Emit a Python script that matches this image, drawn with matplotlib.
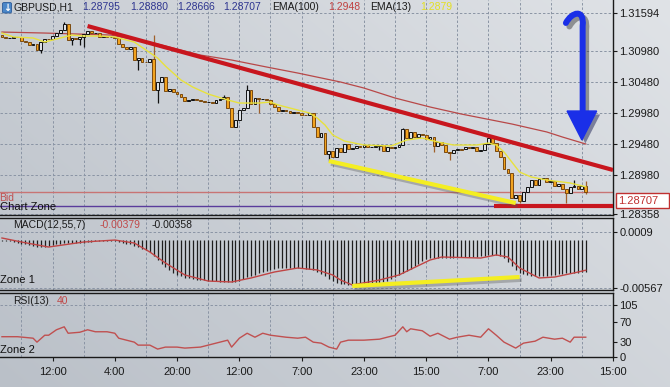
import numpy as np
import matplotlib
matplotlib.use("Agg")
import matplotlib.pyplot as plt
import matplotlib.patheffects as pe
from matplotlib.path import Path
from matplotlib.patches import PathPatch, Polygon, Rectangle, FancyBboxPatch

plt.rcParams['font.family'] = ['Liberation Sans', 'DejaVu Sans']

W, H = 670, 387

# ---------------- GBPUSD H1 candles (bar 0 = leftmost) ----------------
first_open = 1.31238
closes = [
    1.31206, 1.31190, 1.31192, 1.31206, 1.31204, 1.31141, 1.31125, 1.31077, 1.31093, 1.30996,
    1.31125, 1.31174, 1.31170, 1.31222, 1.31270, 1.31319, 1.31415, 1.31157, 1.31190, 1.31174,
    1.31206, 1.31254, 1.31303, 1.31270, 1.31275, 1.31206, 1.31222, 1.31206, 1.31210, 1.31190,
    1.31093, 1.31045, 1.31012, 1.31045, 1.30835, 1.30867, 1.30803, 1.30800, 1.30851, 1.30351,
    1.30480, 1.30561, 1.30335, 1.30367, 1.30319, 1.30286, 1.30238, 1.30174, 1.30190, 1.30206,
    1.30190, 1.30174, 1.30157, 1.30160, 1.30141, 1.30190, 1.30206, 1.30238, 1.30061, 1.29754,
    1.29867, 1.30028, 1.30061, 1.30351, 1.30125, 1.30222, 1.30206, 1.30210, 1.30190, 1.30125,
    1.30077, 1.30012, 1.30028, 1.30012, 1.29980, 1.29996, 1.29980, 1.29948, 1.29945, 1.29980,
    1.29754, 1.29593, 1.29657, 1.29319, 1.29367, 1.29270, 1.29415, 1.29351, 1.29480, 1.29399,
    1.29415, 1.29448, 1.29432, 1.29464, 1.29432, 1.29435, 1.29448, 1.29464, 1.29367, 1.29432,
    1.29415, 1.29432, 1.29464, 1.29722, 1.29577, 1.29674, 1.29593, 1.29641, 1.29625, 1.29561,
    1.29593, 1.29448, 1.29512, 1.29464, 1.29351, 1.29335, 1.29383, 1.29399, 1.29396, 1.29432,
    1.29415, 1.29432, 1.29367, 1.29383, 1.29480, 1.29577, 1.29496, 1.29367, 1.29270, 1.29077,
    1.29012, 1.28609, 1.28657, 1.28561, 1.28706, 1.28786, 1.28899, 1.28819, 1.28915, 1.28932,
    1.28867, 1.28883, 1.28803, 1.28835, 1.28754, 1.28690, 1.28786, 1.28800, 1.28754, 1.28795,
    1.28707,
]
# visible wicks (bar index -> high / low)
high_wicks = {16: 1.31448, 39: 1.31238, 57: 1.30270, 63: 1.30432, 103: 1.29738,
              147: 1.28899, 150: 1.28880}
low_wicks = {10: 1.30948, 18: 1.31077, 20: 1.31077, 21: 1.31045, 35: 1.30674, 40: 1.30141,
             66: 1.29980, 84: 1.29206, 97: 1.29383, 111: 1.29351, 115: 1.29222,
             133: 1.28528, 145: 1.28528, 150: 1.28666}

# moving averages
ema13_idx = [0, 3, 8, 11, 13, 16, 18, 21, 25, 29, 34, 37, 40, 42, 46, 49, 53, 58, 61, 66,
             69, 71, 76, 79, 81, 83, 85, 88, 93, 100, 104, 108, 112, 116, 122, 125, 127,
             129, 131, 133, 136, 140, 146, 150]
ema13_val = [1.31270, 1.31206, 1.31190, 1.31125, 1.31157, 1.31206, 1.31238, 1.31222, 1.31222,
             1.31206, 1.31125, 1.30996, 1.30867, 1.30738, 1.30512, 1.30399, 1.30286, 1.30190,
             1.30141, 1.30141, 1.30157, 1.30109, 1.30028, 1.29980, 1.29899, 1.29787, 1.29625,
             1.29528, 1.29464, 1.29448, 1.29545, 1.29577, 1.29512, 1.29464, 1.29464, 1.29496,
             1.29464, 1.29351, 1.29190, 1.29028, 1.28948, 1.28899, 1.28851, 1.28790]
ema100_idx = [0, 11, 28, 39, 51, 59, 68, 76, 87, 93, 101, 110, 118, 131, 140, 144, 150]
ema100_val = [1.31286, 1.31270, 1.31238, 1.31109, 1.30915, 1.30835, 1.30722, 1.30625, 1.30480,
              1.30383, 1.30222, 1.30077, 1.29964, 1.29803, 1.29674, 1.29593, 1.29480]

# MACD(12,55,7) main values (histogram), one per bar
macd_main = [
    -0.00010, -0.00015, -0.00020, -0.00025, -0.00035,
    -0.00045, -0.00055, -0.00065, -0.00075, -0.00085, -0.00085, -0.00080, -0.00075,
    -0.00065, -0.00055, -0.00045, -0.00040, -0.00035, -0.00035, -0.00040, -0.00040, -0.00040,
    -0.00030, -0.00025, -0.00020, -0.00020, -0.00015, -0.00015, -0.00020, -0.00020, -0.00025, -0.00035,
    -0.00045, -0.00055, -0.00070, -0.00090, -0.00105, -0.00120, -0.00140,
    -0.00190, -0.00240, -0.00280, -0.00320, -0.00350, -0.00390,
    -0.00410, -0.00430, -0.00445, -0.00455, -0.00465, -0.00470, -0.00470,
    -0.00475, -0.00480, -0.00485, -0.00490, -0.00495, -0.00500, -0.00500, -0.00500, -0.00495, -0.00480,
    -0.00460, -0.00440, -0.00425, -0.00410, -0.00395, -0.00380, -0.00365, -0.00350, -0.00340, -0.00335,
    -0.00330, -0.00330, -0.00330, -0.00330, -0.00335, -0.00335, -0.00340, -0.00345, -0.00355, -0.00375,
    -0.00400, -0.00430, -0.00460, -0.00490, -0.00505, -0.00515, -0.00525,
    -0.00530, -0.00530, -0.00530, -0.00528, -0.00525, -0.00520, -0.00515, -0.00510, -0.00505,
    -0.00495, -0.00480, -0.00460, -0.00440, -0.00415, -0.00390, -0.00365, -0.00340,
    -0.00310, -0.00280, -0.00250, -0.00225,
    -0.00215, -0.00210, -0.00210, -0.00210, -0.00210, -0.00210, -0.00210,
    -0.00205, -0.00205, -0.00200, -0.00200, -0.00200, -0.00200, -0.00195, -0.00190, -0.00185,
    -0.00180, -0.00180, -0.00190,
    -0.00220, -0.00260, -0.00310, -0.00350, -0.00390,
    -0.00405, -0.00415, -0.00425, -0.00430, -0.00430, -0.00425,
    -0.00420, -0.00415, -0.00410, -0.00405, -0.00400, -0.00395, -0.00390, -0.00388, -0.00385,
    -0.00382, -0.00379,
]
signal_idx = [0, 5, 12, 21, 29, 34, 38, 42, 47, 53, 59, 64, 70, 76, 81, 85, 87, 90, 97, 102,
              110, 113, 123, 127, 130, 133, 138, 142, 147, 150]
signal_val = [0.00020, -0.00027, -0.00086, -0.00027, -0.00004, -0.00039, -0.00144, -0.00273,
              -0.00414, -0.00485, -0.00496, -0.00449, -0.00379, -0.00332, -0.00355, -0.00414,
              -0.00473, -0.00531, -0.00473, -0.00414, -0.00238, -0.00203, -0.00215, -0.00179,
              -0.00203, -0.00332, -0.00449, -0.00438, -0.00390, -0.00358]

# RSI(13)
rsi_idx = [0, 4, 8, 9, 11, 12, 14, 16, 17, 20, 22, 24, 27, 29, 30, 34, 35, 38, 40, 42, 45,
           47, 51, 53, 56, 58, 59, 61, 63, 65, 67, 69, 73, 76, 78, 80, 82, 84, 86, 87, 89,
           93, 97, 99, 101, 103, 104, 105, 108, 110, 112, 115, 117, 120, 123, 125, 127, 129,
           132, 134, 137, 139, 142, 144, 146, 147, 149, 150]
rsi_val = [41, 41, 38, 30, 44, 44, 55, 61, 48, 50, 55, 51, 51, 48, 38, 30, 24, 24, 16, 20, 20,
           18, 20, 24, 30, 34, 20, 38, 48, 40, 48, 44, 40, 38, 40, 30, 28, 20, 16, 30, 34,
           34, 36, 40, 44, 61, 51, 57, 53, 42, 48, 36, 40, 44, 40, 57, 44, 30,
           18, 28, 32, 40, 36, 38, 30, 40, 40, 40]

# axes ticks / labels
time_ticks = [13, 29, 45, 61, 77, 93, 109, 125, 141, 157]
time_labels = ['12:00', '4:00', '20:00', '12:00', '7:00', '23:00', '15:00', '7:00', '23:00', '15:00']
grid_x = list(range(5, 157, 8))
price_ticks = [1.31594, 1.30980, 1.30480, 1.29980, 1.29480, 1.28980, 1.28358]
macd_ticks = [0.0009, -0.00567]
macd_tick_labels = ['0.0009', '-0.00567']
rsi_ticks = [105, 70, 30, 0]

# hand-drawn analysis lines (bar index, value)
red_trend = ([22, 157], [1.31383, 1.29061])
yellow_trend = ([84, 132], [1.29206, 1.28528])
red_support = ([126.5, 157], [1.28480, 1.28480])
macd_trend = ([90, 133], [-0.00543, -0.00438])
bid_level = 1.28707
zone_level = 1.28480

# ---------------- figure ----------------
fig = plt.figure(figsize=(W / 100, H / 100), dpi=100)

def fx(px):
    return px / W

def fy(py):
    return 1 - py / H

# background gradient
bg = fig.add_axes([0, 0, 1, 1], zorder=-5)
gx = np.linspace(0, 1, W)[None, :]
gy = np.linspace(0, 1, H)[:, None]
t = 0.6 * gx + 0.4 * (1 - gy)
dark = np.array([186, 192, 200]) / 255
light = np.array([224, 227, 231]) / 255
bg.imshow(dark + t[..., None] * (light - dark), aspect='auto', extent=[0, 1, 0, 1])
bg.axis('off')

right = 613
ax = fig.add_axes([0, fy(215), fx(right), 215 / H])
ax2 = fig.add_axes([0, fy(290), fx(right), 72 / H])
ax3 = fig.add_axes([0, fy(357), fx(right), 64 / H])

grid_kw = dict(color='#8a94a4', linestyle=(0, (2.5, 2)), linewidth=0.7)

for a in (ax, ax2, ax3):
    a.set_facecolor('none')
    a.set_xlim(-0.5, 157)
    a.spines['left'].set_visible(False)
    for s in ('right', 'top', 'bottom'):
        a.spines[s].set_color('#1a1a1a')
        a.spines[s].set_linewidth(1)
    a.yaxis.tick_right()
    a.tick_params(axis='y', direction='out', length=3, width=0.8, pad=1.5,
                  labelsize=8, colors='#1a1a1a')
    a.set_xticks(grid_x, minor=True)
    a.tick_params(axis='x', which='minor', length=0)
    a.grid(True, which='minor', axis='x', **grid_kw)
    a.set_axisbelow(True)
ax.spines['top'].set_visible(False)
ax.set_xticks([])
ax2.set_xticks([])
ax.set_xticks(grid_x, minor=True)
ax2.set_xticks(grid_x, minor=True)

# ---------------- price panel ----------------
x = np.arange(len(closes))
c = np.array(closes)
o = np.concatenate([[first_open], c[:-1]])
hi = np.maximum(o, c)
lo = np.minimum(o, c)
for k, v in high_wicks.items():
    hi[k] = max(hi[k], v)
for k, v in low_wicks.items():
    lo[k] = min(lo[k], v)
up = c >= o

ax.vlines(x[up], lo[up], hi[up], color='#111111', lw=0.9, zorder=3)
ax.vlines(x[~up], lo[~up], hi[~up], color='#a0602a', lw=0.9, zorder=3)
body_h = np.maximum(np.abs(c - o), 0.00012)
body_b = (o + c) / 2 - body_h / 2
ax.bar(x, body_h, bottom=body_b, width=0.72,
       color=np.where(up, '#dde1e6', '#f2a31f'),
       edgecolor=np.where(up, '#111111', '#7a4a10'), linewidth=0.7, zorder=4)

ax.plot(ema100_idx, ema100_val, color='#b84848', lw=0.9, zorder=2)
ax.plot(ema13_idx, ema13_val, color='#e8e23c', lw=1.0, zorder=5)

ax.axhline(bid_level, color='#c87474', lw=1, zorder=2)
ax.axhline(zone_level, color='#5a3c9c', lw=1, zorder=2)
ax.plot(*red_trend, color='#c8161e', lw=3, solid_capstyle='butt', zorder=6)
ax.plot(*red_support, color='#c8161e', lw=3, solid_capstyle='butt', zorder=6)
ax.plot(*yellow_trend, color='#f4ee22', lw=3, solid_capstyle='butt', zorder=6,
        path_effects=[pe.SimpleLineShadow(offset=(1.5, -2), shadow_color='#555555', alpha=0.35),
                      pe.Normal()])

ax.set_ylim(1.28335, 1.31803)
ax.set_yticks(price_ticks)
ax.set_yticklabels([f'{v:.5f}' for v in price_ticks])
ax.grid(True, which='major', axis='y', **grid_kw)

# blue arrow
arrow_path = Path([(144.9, 1.31432), (146.4, 1.31609), (149.7, 1.31674), (149.2, 1.31383),
                   (149.2, 1.29996)],
                  [Path.MOVETO, Path.CURVE4, Path.CURVE4, Path.CURVE4, Path.LINETO])
shadow = [pe.SimpleLineShadow(offset=(2.5, -2.5), shadow_color='#303030', alpha=0.45), pe.Normal()]
ax.add_patch(PathPatch(arrow_path, fill=False, edgecolor='#1a2fe8', lw=4.3,
                       capstyle='round', zorder=8, path_effects=shadow))
ax.add_patch(Polygon([(145.2, 1.30012), (152.8, 1.30012), (149.0, 1.29545)], closed=True,
                     facecolor='#1a2fe8', edgecolor='#1a2fe8', zorder=8,
                     path_effects=[pe.SimplePatchShadow(offset=(2.5, -2.5), alpha=0.45), pe.Normal()]))

# ---------------- MACD panel ----------------
ax2.vlines(x, 0, macd_main, color='#1e1e1e', lw=0.9, zorder=3)
ax2.plot(signal_idx, signal_val, color='#c04444', lw=1.0, zorder=4)
ax2.plot(*macd_trend, color='#f4ee22', lw=3, solid_capstyle='butt', zorder=6,
         path_effects=[pe.SimpleLineShadow(offset=(1.5, -2), shadow_color='#555555', alpha=0.35),
                       pe.Normal()])
ax2.set_ylim(-0.005901, 0.002546)
ax2.set_yticks(macd_ticks)
ax2.set_yticklabels(macd_tick_labels)
ax2.grid(True, which='major', axis='y', **grid_kw)

# ---------------- RSI panel ----------------
ax3.plot(rsi_idx, rsi_val, color='#c05050', lw=1.0, zorder=4)
ax3.set_ylim(0, 129.3)
ax3.set_yticks(rsi_ticks)
ax3.set_yticklabels([str(v) for v in rsi_ticks])
ax3.axhline(105, **grid_kw)
ax3.set_xticks(time_ticks)
ax3.set_xticklabels(time_labels)
ax3.tick_params(axis='x', which='major', direction='out', length=3, width=0.8, pad=4,
                labelsize=8, colors='#1a1a1a')
ax3.set_xlim(-0.5, 157)

# ---------------- labels ----------------
fig.add_artist(FancyBboxPatch((fx(2.5), fy(13)), fx(9), 10.5 / H,
                              boxstyle='round,pad=0,rounding_size=0.003',
                              transform=fig.transFigure, fc='#4a86c8', ec='#2a5a98', lw=0.6))
fig.text(fx(7), fy(7.5), '\u2193', fontsize=7, color='white', ha='center', va='center',
         fontweight='bold', family='DejaVu Sans')
fig.text(fx(13), fy(7.5), 'GBPUSD,H1', fontsize=7.5, color='#1a1a1a', va='center')
for px_, val in zip([82, 130, 177, 223], [o[-1], hi[-1], lo[-1], c[-1]]):
    fig.text(fx(px_), fy(7.5), f'{val:.5f}', fontsize=7.5, color='#2e3590', va='center')
fig.text(fx(272), fy(7.5), 'EMA(100)', fontsize=7.5, color='#1a1a1a', va='center')
fig.text(fx(328), fy(7.5), f'{ema100_val[-1]:.4f}', fontsize=7.5, color='#c04040', va='center')
fig.text(fx(370), fy(7.5), 'EMA(13)', fontsize=7.5, color='#1a1a1a', va='center')
fig.text(fx(420), fy(7.5), f'{ema13_val[-1]:.4f}', fontsize=7.5, color='#e4e020', va='center')

fig.text(fx(-1), fy(198), 'Bid', fontsize=7.5, color='#c05050', va='center')
fig.text(fx(0), fy(207.5), 'Chart Zone', fontsize=8, color='#111111', va='center')

fig.text(fx(13), fy(225), 'MACD(12,55,7)', fontsize=7.5, color='#1a1a1a', va='center')
fig.text(fx(100), fy(225), f'{macd_main[-1]:.5f}', fontsize=7.5, color='#c04848', va='center')
fig.text(fx(152), fy(225), f'{signal_val[-1]:.5f}', fontsize=7.5, color='#1a1a1a', va='center')
fig.text(fx(0), fy(280), 'Zone 1', fontsize=8, color='#111111', va='center')

fig.text(fx(13), fy(301), 'RSI(13)', fontsize=7.5, color='#1a1a1a', va='center')
fig.text(fx(57), fy(301), f'{rsi_val[-1]}', fontsize=7.5, color='#c04848', va='center')
fig.text(fx(0), fy(350), 'Zone 2', fontsize=8, color='#111111', va='center')

# current price box
fig.add_artist(Rectangle((fx(616), fy(208)), fx(53), 15 / H, transform=fig.transFigure,
                         fc='white', ec='#c03030', lw=1, zorder=5))
fig.text(fx(618), fy(200.5), f'{c[-1]:.5f}', fontsize=8, color='#c03030', va='center', zorder=6)

fig.savefig('out.png', dpi=100)
